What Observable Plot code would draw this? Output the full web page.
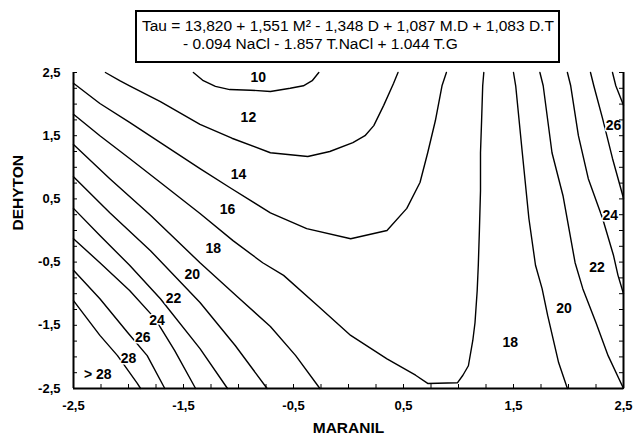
<!DOCTYPE html>
<html>
<head>
<meta charset="utf-8">
<script src="https://cdn.jsdelivr.net/npm/d3@7"></script>
<script src="https://cdn.jsdelivr.net/npm/@observablehq/plot@0.6"></script>
<style>
  html, body { margin: 0; padding: 0; background: #fff; }
  #wrap { position: relative; width: 635px; height: 437px; font-family: "Liberation Sans", Arial, sans-serif; }
  #chart { position: absolute; left: 0; top: 0; }
  #title { position: absolute; left: 135px; top: 10px; width: 425px; height: 53px; box-sizing: border-box;
           border: 2px solid #000; background: #fff; font-size: 15.5px; line-height: 18px; color: #000; z-index: 2; }
  #title div { position: absolute; white-space: nowrap; }
</style>
</head>
<body>
<div id="wrap">
  <div id="chart"></div>
  <div id="title"><div id="t1"></div><div id="t2"></div></div>
</div>
<script>
// Title lines
const titleLine1 = "Tau = 13,820 + 1,551 M² - 1,348 D + 1,087 M.D + 1,083 D.T";
const titleLine2 = "- 0.094 NaCl - 1.857 T.NaCl + 1.044 T.G";
const xTitle = "MARANIL";
const yTitle = "DEHYTON";

// Axis ranges and ticks
const xRange = [-2.5, 2.5];
const yRange = [-2.5, 2.5];
const xTicks = [-2.5, -1.5, -0.5, 0.5, 1.5, 2.5];
const yTicks = [-2.5, -1.5, -0.5, 0.5, 1.5, 2.5];
const minorTicks = [-2.5,-2.25,-2,-1.75,-1.5,-1.25,-1,-0.75,-0.5,-0.25,0,0.25,0.5,0.75,1,1.25,1.5,1.75,2,2.25,2.5];

// Contour lines (MARANIL, DEHYTON)
const c10 = [[-1.41,2.5],[-1.32,2.37],[-1.21,2.28],[-1.08,2.23],[-0.89,2.22],[-0.71,2.20],[-0.53,2.25],[-0.41,2.29],[-0.33,2.37],[-0.27,2.5]];
const c12 = [[-2.21,2.5],[-2.08,2.37],[-1.99,2.29],[-1.71,2.04],[-1.35,1.68],[-1.06,1.46],[-0.71,1.23],[-0.37,1.17],[-0.17,1.25],[0.04,1.39],[0.15,1.50],[0.23,1.66],[0.32,1.98],[0.41,2.33],[0.45,2.5]];
const c14 = [[-2.5,2.33],[-2.26,2.01],[-1.99,1.71],[-1.71,1.39],[-1.35,0.98],[-1.08,0.68],[-0.71,0.28],[-0.38,0.03],[0.02,-0.13],[0.35,0.00],[0.53,0.35],[0.65,0.76],[0.72,1.23],[0.79,1.74],[0.85,2.29],[0.89,2.5]];
const c16 = [[-2.5,1.84],[-2.26,1.50],[-1.99,1.14],[-1.71,0.76],[-1.35,0.27],[-1.05,-0.16],[-0.78,-0.51],[-0.59,-0.71],[-0.28,-1.19],[0.02,-1.66],[0.35,-2.03],[0.61,-2.29],[0.72,-2.42],[0.99,-2.41],[1.04,-2.29],[1.09,-2.14],[1.13,-1.74],[1.15,-1.46],[1.17,-0.95],[1.18,-0.55],[1.19,0.00],[1.20,0.63],[1.20,1.23],[1.21,1.74],[1.22,2.29],[1.23,2.5]];
const c18 = [[-2.5,1.36],[-2.17,0.82],[-1.80,0.24],[-1.35,-0.51],[-0.99,-1.08],[-0.71,-1.52],[-0.48,-1.98],[-0.26,-2.5]];
const c20 = [[-2.5,0.85],[-2.17,0.28],[-1.80,-0.32],[-1.35,-1.14],[-1.03,-1.82],[-0.74,-2.5]];
const c22 = [[-2.5,0.35],[-2.26,-0.08],[-1.99,-0.55],[-1.71,-1.08],[-1.35,-1.87],[-1.10,-2.5]];
const c24 = [[-2.5,-0.13],[-2.26,-0.51],[-1.99,-0.95],[-1.76,-1.39],[-1.58,-1.90],[-1.39,-2.5]];
const c26 = [[-2.5,-0.63],[-2.26,-1.08],[-2.01,-1.61],[-1.83,-1.98],[-1.67,-2.5]];
const c28 = [[-2.5,-1.11],[-2.26,-1.66],[-2.10,-1.98],[-1.92,-2.42],[-1.89,-2.5]];
const r18 = [[1.50,2.5],[1.52,2.29],[1.58,1.23],[1.64,0.19],[1.70,-0.55],[1.76,-0.92],[1.81,-1.34],[1.91,-2.09],[1.99,-2.5]];
const r20 = [[1.74,2.5],[1.77,2.29],[1.85,1.23],[1.95,0.55],[2.06,-0.51],[2.13,-0.92],[2.25,-1.46],[2.36,-1.98],[2.5,-2.5]];
const r22 = [[1.99,2.5],[2.02,2.29],[2.09,1.50],[2.18,0.82],[2.31,0.19],[2.41,-0.40],[2.45,-0.71],[2.5,-1.0]];
const r24 = [[2.20,2.5],[2.23,2.29],[2.31,1.77],[2.40,1.14],[2.5,0.51]];
const r26 = [[2.40,2.5],[2.43,2.29],[2.5,1.98]];

// Contour labels
const labelText = ["10","12","14","16","18","20","22","24","26","28","> 28","18","20","22","24","26"];
const labelX    = [-0.82,-0.91,-1.00,-1.10,-1.23,-1.42,-1.59,-1.74,-1.87,-2.00,-2.28,1.47,1.96,2.26,2.38,2.41];
const labelY    = [2.42,1.79,0.89,0.33,-0.28,-0.70,-1.08,-1.42,-1.69,-2.03,-2.28,-1.77,-1.23,-0.59,0.24,1.66];

// Build tables
const contourSets = [["c10",c10],["c12",c12],["c14",c14],["c16",c16],["c18",c18],["c20",c20],["c22",c22],["c24",c24],["c26",c26],["c28",c28],["r18",r18],["r20",r20],["r22",r22],["r24",r24],["r26",r26]];
const rows = contourSets.flatMap(([id, pts]) => pts.map(([x, y]) => ({id, x, y})));
const labels = labelText.map((t, i) => ({t, x: labelX[i], y: labelY[i]}));

document.getElementById("t1").textContent = titleLine1;
document.getElementById("t2").textContent = titleLine2;
const t1 = document.getElementById("t1"); t1.style.left = "5px"; t1.style.top = "5px";
const t2 = document.getElementById("t2"); t2.style.left = "46px"; t2.style.top = "23px";

const W = 635, H = 437, mT = 72, mR = 12, mB = 49, mL = 73;
const fw = W - mL - mR, fh = H - mT - mB;
const fmt = d => String(d).replace(".", ",");

const chart = Plot.plot({
  width: W, height: H,
  marginTop: mT, marginRight: mR, marginBottom: mB, marginLeft: mL,
  style: {fontFamily: "'Liberation Sans', Arial, sans-serif", background: "#fff", color: "#000"},
  x: {domain: xRange, label: null},
  y: {domain: yRange, label: null},
  marks: [
    Plot.line(rows, {x: "x", y: "y", z: "id", stroke: "#000", strokeWidth: 1.4, strokeLinejoin: "round"}),
    Plot.text(labels, {x: "x", y: "y", text: "t", fontSize: 14, fontWeight: "bold", fill: "#000",
      stroke: "#fff", strokeWidth: 3, paintOrder: "stroke"}),
    Plot.tickX(minorTicks, {x: d => d, insetTop: fh - 4, stroke: "#000", strokeWidth: 1}),
    Plot.tickY(minorTicks, {y: d => d, insetRight: fw - 4, stroke: "#000", strokeWidth: 1}),
    Plot.tickY(minorTicks, {y: d => d, insetLeft: fw - 4, stroke: "#000", strokeWidth: 1}),
    Plot.ruleY([yRange[0]], {stroke: "#000", strokeWidth: 2}),
    Plot.ruleX([xRange[0]], {stroke: "#000", strokeWidth: 2}),
    Plot.ruleX([xRange[1]], {stroke: "#000", strokeWidth: 2}),
    Plot.axisX(xTicks, {tickSize: 0, tickPadding: 12, tickFormat: fmt, fontSize: 13, fontWeight: "bold", label: null}),
    Plot.axisY(yTicks, {tickSize: 0, tickPadding: 13, tickFormat: fmt, fontSize: 13, fontWeight: "bold", label: null}),
    Plot.text([xTitle], {text: d => d, frameAnchor: "bottom", dy: 44, fontSize: 15.5, fontWeight: "bold"}),
    Plot.text([yTitle], {text: d => d, frameAnchor: "left", dx: -55, rotate: -90, fontSize: 15.5, fontWeight: "bold"})
  ]
});
document.getElementById("chart").appendChild(chart);
</script>
</body>
</html>
